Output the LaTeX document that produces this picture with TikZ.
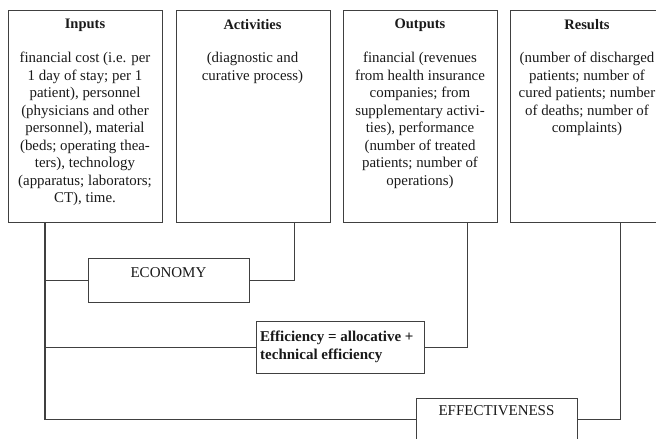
\documentclass[tikz,border=0pt]{standalone}
\usepackage{fontspec}
\setmainfont{Liberation Serif}
\begin{document}
\begin{tikzpicture}[x=1pt,y=-1pt,
  bigbox/.style={draw=black!75, line width=1.1pt, minimum width=154pt, minimum height=212pt, anchor=north west, inner sep=0pt},
  smallbox/.style={draw=black!75, line width=1.1pt, anchor=north west, inner sep=0pt},
  conn/.style={draw=black!75, line width=1.1pt},
  ttl/.style={font=\fontsize{14.5}{16}\selectfont\bfseries, text=black!90, inner sep=0pt},
  body/.style={font=\fontsize{14.9}{17.5}\selectfont, text=black!90, align=center, anchor=north, inner sep=0pt},
  lbl/.style={font=\fontsize{15}{18}\selectfont, text=black!90, inner sep=0pt}]
\useasboundingbox (0,0) rectangle (656,439);
\clip (0,0) rectangle (656,439);
% top boxes
\node[bigbox] (inb) at (8,10) {};
\node[bigbox] (actb) at (176,10) {};
\node[bigbox] (outb) at (343,10) {};
\node[bigbox] (resb) at (510,10) {};
\node[ttl] (int) at (85,25) {Inputs};
\node[ttl] (actt) at (252.5,25) {Activities};
\node[ttl] (outt) at (420,25) {Outputs};
\node[ttl] (rest) at (587,25) {Results};
\node[body] (inx) at (85,52) {financial cost (i.e. per\\1 day of stay; per 1\\patient), personnel\\(physicians and other\\personnel), material\\(beds; operating thea-\\ters), technology\\(apparatus; laborators;\\CT), time.};
\node[body] (actx) at (252.5,52) {(diagnostic and\\curative process)};
\node[body] (outx) at (420,52) {financial (revenues\\from health insurance\\companies; from\\supplementary activi-\\ties), performance\\(number of treated\\patients; number of\\operations)};
\node[body] (resx) at (587,52) {(number of discharged\\patients; number of\\cured patients; number\\of deaths; number of\\complaints)};
% lower boxes
\node[smallbox, minimum width=161pt, minimum height=44pt] (eco) at (88,258) {};
\node[lbl] (ecot) at (168.5,273) {ECONOMY};
\node[smallbox, minimum width=168pt, minimum height=52pt] (effc) at (256,321) {};
\node[lbl, font=\fontsize{15}{18}\selectfont\bfseries, align=left, anchor=north west] (effct) at (260,331) {Efficiency = allocative +\\technical efficiency};
\node[smallbox, minimum width=161pt, minimum height=42pt] (eff) at (416,398) {};
\node[lbl] (efft) at (496.5,411) {EFFECTIVENESS};
% connectors
\coordinate (trunk) at (45,419);
\draw[conn] (inb.south -| trunk) |- (eff.west);
\draw[conn] (trunk |- eco.west) -- (eco.west);
\draw[conn] (eco.east) -| ([xshift=40.5pt]actb.south);
\draw[conn] (trunk |- effc.west) -- (effc.west);
\draw[conn] (effc.east) -| ([xshift=47pt]outb.south);
\draw[conn] (eff.east) -| ([xshift=33pt]resb.south);
\end{tikzpicture}
\end{document}
